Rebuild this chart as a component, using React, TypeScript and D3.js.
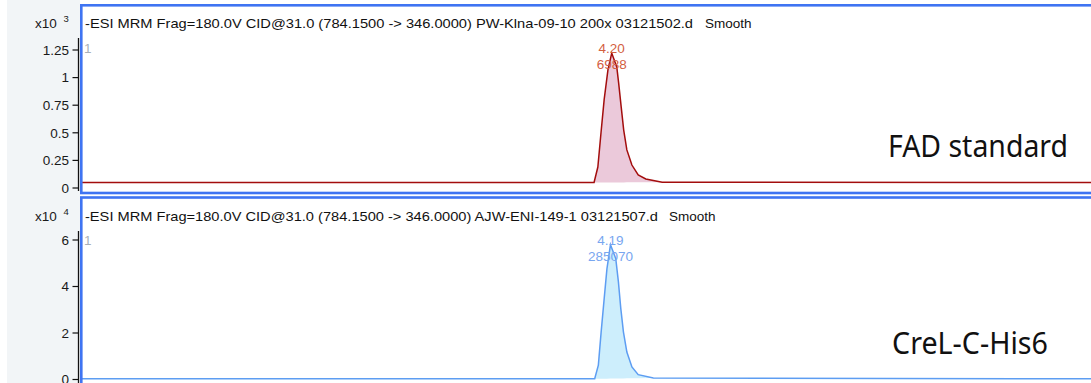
import React from "react";
import * as d3 from "d3";

// Retention time axis (minutes) shared by both traces
const timeDomain = [0, 8];

// FAD standard trace: retention time (min) and abundance (counts)
const fadTime = [0, 4.06, 4.09, 4.115, 4.14, 4.17, 4.2, 4.24, 4.255, 4.275, 4.295, 4.32, 4.36, 4.41, 4.47, 4.6, 8];
const fadCounts = [50, 50, 190, 500, 800, 1070, 1222, 1096, 950, 735, 525, 345, 208, 118, 82, 52, 50];

// CreL-C-His6 trace
const crelTime = [0, 4.065, 4.094, 4.116, 4.14, 4.162, 4.19, 4.232, 4.253, 4.272, 4.293, 4.32, 4.36, 4.41, 4.53, 8];
const crelCounts = [300, 300, 6200, 20400, 34700, 47600, 58000, 52000, 42000, 30500, 20400, 11800, 5400, 2100, 650, 300];

// Axis ticks
const fadTicks = [0, 250, 500, 750, 1000, 1250];
const fadTickLabels = ["0", "0.25", "0.5", "0.75", "1", "1.25"];
const crelTicks = [0, 20000, 40000, 60000];
const crelTickLabels = ["0", "2", "4", "6"];

// Peak annotations
const peakRT = ["4.20", "4.19"];
const peakArea = ["6988", "285070"];
const integrationWindows = [
  [4.06, 4.6],
  [4.065, 4.53],
];

const titles = [
  "-ESI MRM Frag=180.0V CID@31.0 (784.1500 -> 346.0000) PW-Klna-09-10 200x 03121502.d",
  "-ESI MRM Frag=180.0V CID@31.0 (784.1500 -> 346.0000) AJW-ENI-149-1 03121507.d",
];
const sampleNames = ["FAD standard", "CreL-C-His6"];
const exponents = ["3", "4"];

const W = 1091;
const H = 383;
const FONT = "'Liberation Sans', Arial, sans-serif";

const x = d3.scaleLinear().domain(timeDomain).range([82, 1091]);

type PanelProps = {
  time: number[];
  counts: number[];
  yScale: d3.ScaleLinear<number, number>;
  ticks: number[];
  tickLabels: string[];
  window: number[];
  rt: string;
  area: string;
  title: string;
  titleWidth: number;
  smoothX: number;
  name: string;
  nameX: number;
  nameY: number;
  nameWidth: number;
  exponent: string;
  frameTop: number;
  frameBottom: number;
  axisTop: number;
  axisBottom: number;
  titleY: number;
  markerY: number;
  rtY: number;
  areaY: number;
  stroke: string;
  fill: string;
  labelColor: string;
};

function Panel(p: PanelProps) {
  const pts = p.time.map((t, i) => [t, p.counts[i]] as [number, number]);
  const line = d3
    .line<[number, number]>()
    .x((d) => x(d[0]))
    .y((d) => p.yScale(d[1]));

  // Integrated region: points within the window, filled down to the baseline chord
  const [ws, we] = p.window;
  const inside = pts.filter((d) => d[0] >= ws && d[0] <= we);
  const b0 = inside[0];
  const b1 = inside[inside.length - 1];
  const baseAt = (t: number) => b0[1] + ((t - b0[0]) / (b1[0] - b0[0])) * (b1[1] - b0[1]);
  const area = d3
    .area<[number, number]>()
    .x((d) => x(d[0]))
    .y0((d) => p.yScale(baseAt(d[0])))
    .y1((d) => p.yScale(d[1]));

  const apexIdx = d3.maxIndex(p.counts);
  const apexX = x(p.time[apexIdx]);

  return (
    <g>
      <defs>
        <clipPath id={`clip-${p.name}`}>
          <rect x={82} y={p.frameTop} width={W} height={p.frameBottom - p.frameTop} />
        </clipPath>
      </defs>
      {/* y axis */}
      <line x1={78.5} x2={78.5} y1={p.axisTop} y2={p.axisBottom} stroke="#111" strokeWidth={1.3} />
      {p.ticks.map((t, i) => (
        <g key={t}>
          <line x1={72.5} x2={78.5} y1={p.yScale(t)} y2={p.yScale(t)} stroke="#111" strokeWidth={1.2} />
          <text
            x={69}
            y={p.yScale(t)}
            dy="0.36em"
            textAnchor="end"
            fontFamily={FONT}
            fontSize={13.5}
            fill="#1a1a1a"
          >
            {p.tickLabels[i]}
          </text>
        </g>
      ))}
      <text x={35} y={p.titleY} fontFamily={FONT} fontSize={13.5} fill="#1a1a1a">
        x10
      </text>
      <text x={63.5} y={p.titleY - 6} fontFamily={FONT} fontSize={9.5} fill="#1a1a1a">
        {p.exponent}
      </text>

      {/* trace */}
      <g clipPath={`url(#clip-${p.name})`}>
        <path d={area(inside) ?? ""} fill={p.fill} stroke="none" />
        <path d={line(pts) ?? ""} fill="none" stroke={p.stroke} strokeWidth={1.5} />
      </g>

      {/* frame */}
      <rect
        x={81.3}
        y={p.frameTop}
        width={1030}
        height={p.frameBottom - p.frameTop}
        fill="none"
        stroke="#3f74f2"
        strokeWidth={2.6}
      />

      {/* title row */}
      <text
        x={85}
        y={p.titleY}
        fontFamily={FONT}
        fontSize={13.5}
        fill="#111"
        textLength={p.titleWidth}
        lengthAdjust="spacingAndGlyphs"
      >
        {p.title}
      </text>
      <text x={p.smoothX} y={p.titleY} fontFamily={FONT} fontSize={13.5} fill="#111">
        Smooth
      </text>
      <text x={84} y={p.markerY} fontFamily={FONT} fontSize={13.5} fill="#a9b0b8">
        1
      </text>

      {/* peak labels */}
      <text x={apexX} y={p.rtY} textAnchor="middle" fontFamily={FONT} fontSize={13.5} fill={p.labelColor}>
        {p.rt}
      </text>
      <text x={apexX} y={p.areaY} textAnchor="middle" fontFamily={FONT} fontSize={13.5} fill={p.labelColor}>
        {p.area}
      </text>

      {/* sample name */}
      <text
        x={p.nameX}
        y={p.nameY}
        fontFamily="'Noto Sans', 'Open Sans', sans-serif"
        fontSize={31}
        fill="#111"
        textLength={p.nameWidth}
        lengthAdjust="spacingAndGlyphs"
      >
        {p.name}
      </text>
    </g>
  );
}

export default function App() {
  const yTop = d3.scaleLinear().domain([0, 1250]).range([188, 50]);
  const yBottom = d3.scaleLinear().domain([0, 60000]).range([379.5, 240]);

  return (
    <svg
      width={W}
      height={H}
      viewBox={`0 0 ${W} ${H}`}
      style={{ position: "absolute", left: 0, top: 0, background: "#fff" }}
    >
      <rect x={0} y={0} width={W} height={H} fill="#fff" />
      <rect x={7} y={0} width={73} height={H} fill="#f2f5f7" />
      <Panel
        time={fadTime}
        counts={fadCounts}
        yScale={yTop}
        ticks={fadTicks}
        tickLabels={fadTickLabels}
        window={integrationWindows[0]}
        rt={peakRT[0]}
        area={peakArea[0]}
        title={titles[0]}
        titleWidth={608}
        smoothX={705}
        name={sampleNames[0]}
        nameX={888}
        nameY={157}
        nameWidth={180}
        exponent={exponents[0]}
        frameTop={5.3}
        frameBottom={193}
        axisTop={38}
        axisBottom={191}
        titleY={28}
        markerY={53}
        rtY={52.5}
        areaY={68.5}
        stroke="#a30d0d"
        fill="#ebc9da"
        labelColor="#d3603f"
      />
      <Panel
        time={crelTime}
        counts={crelCounts}
        yScale={yBottom}
        ticks={crelTicks}
        tickLabels={crelTickLabels}
        window={integrationWindows[1]}
        rt={peakRT[1]}
        area={peakArea[1]}
        title={titles[1]}
        titleWidth={573}
        smoothX={669}
        name={sampleNames[1]}
        nameX={892}
        nameY={354}
        nameWidth={156}
        exponent={exponents[1]}
        frameTop={197.5}
        frameBottom={400}
        axisTop={231}
        axisBottom={383}
        titleY={221}
        markerY={245}
        rtY={244.5}
        areaY={261}
        stroke="#5d9df2"
        fill="#cdeefc"
        labelColor="#78a6f0"
      />
    </svg>
  );
}
